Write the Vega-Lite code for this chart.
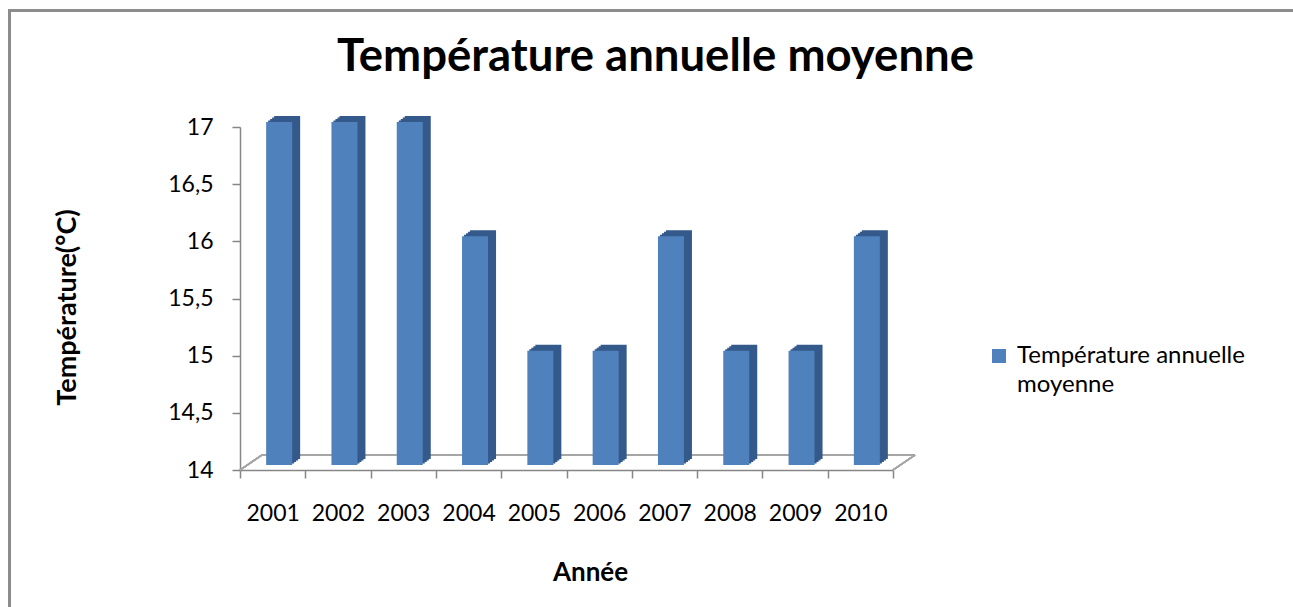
{
  "$schema": "https://vega.github.io/schema/vega-lite/v6.json",
  "width": 653,
  "height": 343,
  "autosize": "none",
  "padding": {"left": 240, "top": 127, "right": 400, "bottom": 137},
  "background": "white",
  "config": {
    "view": {"stroke": null},
    "font": "Lato",
    "axis": {"labelFont": "Lato", "titleFont": "Lato", "labelColor": "black", "titleColor": "black", "domainColor": "#868686", "tickColor": "#868686", "domainWidth": 1.5, "tickWidth": 1.5, "grid": false}
  },
  "title": {
    "text": "Température annuelle moyenne",
    "font": "Lato",
    "fontSize": 45.5,
    "fontWeight": "bold",
    "color": "black",
    "anchor": "middle",
    "frame": "group",
    "dx": 89,
    "baseline": "alphabetic",
    "offset": -107
  },
  "data": {
    "values": [
      {"annee": 2001, "temp": 17, "serie": "Température annuelle moyenne"},
      {"annee": 2002, "temp": 17, "serie": "Température annuelle moyenne"},
      {"annee": 2003, "temp": 17, "serie": "Température annuelle moyenne"},
      {"annee": 2004, "temp": 16, "serie": "Température annuelle moyenne"},
      {"annee": 2005, "temp": 15, "serie": "Température annuelle moyenne"},
      {"annee": 2006, "temp": 15, "serie": "Température annuelle moyenne"},
      {"annee": 2007, "temp": 16, "serie": "Température annuelle moyenne"},
      {"annee": 2008, "temp": 15, "serie": "Température annuelle moyenne"},
      {"annee": 2009, "temp": 15, "serie": "Température annuelle moyenne"},
      {"annee": 2010, "temp": 16, "serie": "Température annuelle moyenne"}
    ]
  },
  "layer": [
    {
      "mark": {"type": "rect", "fill": null, "stroke": "#8c8c8c", "strokeWidth": 2.5, "clip": false},
      "encoding": {
        "x": {"datum": 1996.97, "type": "quantitative", "scale": {"domain": [2000.5, 2010.5], "nice": false, "zero": false, "padding": 0}},
        "x2": {"datum": 2016.8},
        "y": {"datum": 18.02, "type": "quantitative", "scale": {"domain": [14, 17], "nice": false, "zero": false, "padding": 0}},
        "y2": {"datum": 12.6}
      }
    },
    {
      "mark": {"type": "rule", "stroke": "#a6a6a6", "strokeWidth": 1.5, "xOffset": 22, "yOffset": -15, "x2Offset": 22, "y2Offset": -15},
      "encoding": {
        "x": {"datum": 2000.5, "type": "quantitative"},
        "x2": {"datum": 2010.5},
        "y": {"datum": 14, "type": "quantitative"}
      }
    },
    {
      "mark": {"type": "rule", "stroke": "#a6a6a6", "strokeWidth": 1.5, "x2Offset": 22, "y2Offset": -15},
      "encoding": {
        "x": {"datum": 2000.5, "type": "quantitative"},
        "x2": {"datum": 2000.5},
        "y": {"datum": 14, "type": "quantitative"},
        "y2": {"datum": 14}
      }
    },
    {
      "mark": {"type": "rule", "stroke": "#a6a6a6", "strokeWidth": 1.5, "x2Offset": 22, "y2Offset": -15},
      "encoding": {
        "x": {"datum": 2010.5, "type": "quantitative"},
        "x2": {"datum": 2010.5},
        "y": {"datum": 14, "type": "quantitative"},
        "y2": {"datum": 14}
      }
    },
    {
      "mark": {"type": "bar", "width": 26, "fill": "#34598b", "xOffset": 8.5, "yOffset": -6.5, "y2Offset": -6.5},
      "encoding": {"x": {"field": "annee", "type": "quantitative"}, "y": {"field": "temp", "type": "quantitative"}, "y2": {"datum": 14}}
    },
    {
      "mark": {"type": "bar", "width": 26, "fill": "#34598b", "xOffset": 10.5, "yOffset": -8, "y2Offset": -8},
      "encoding": {"x": {"field": "annee", "type": "quantitative"}, "y": {"field": "temp", "type": "quantitative"}, "y2": {"datum": 14}}
    },
    {
      "mark": {"type": "bar", "width": 26, "fill": "#34598b", "xOffset": 12.5, "yOffset": -9.5, "y2Offset": -9.5},
      "encoding": {"x": {"field": "annee", "type": "quantitative"}, "y": {"field": "temp", "type": "quantitative"}, "y2": {"datum": 14}}
    },
    {
      "mark": {"type": "bar", "width": 26, "fill": "#34598b", "xOffset": 14.5, "yOffset": -11, "y2Offset": -11},
      "encoding": {"x": {"field": "annee", "type": "quantitative"}, "y": {"field": "temp", "type": "quantitative"}, "y2": {"datum": 14}}
    },
    {
      "mark": {"type": "bar", "width": 26, "xOffset": 6.5, "yOffset": -5, "y2Offset": -5},
      "encoding": {
        "x": {
          "field": "annee",
          "type": "quantitative",
          "scale": {"domain": [2000.5, 2010.5], "nice": false, "zero": false, "padding": 0},
          "axis": {
            "values": [2000.5, 2001.5, 2002.5, 2003.5, 2004.5, 2005.5, 2006.5, 2007.5, 2008.5, 2009.5, 2010.5],
            "labelExpr": "datum.value < 2010 ? toString(datum.value + 0.5) : ''",
            "labelOffset": 32.65,
            "labelFontSize": 23,
            "labelPadding": 24,
            "labelFlush": false,
            "labelOverlap": false,
            "tickSize": 8,
            "title": "Année",
            "titleFontSize": 26,
            "titleFontWeight": "bold",
            "titleX": 350,
            "titleY": 110,
            "titleAnchor": null,
            "titleAlign": "center",
            "titleBaseline": "alphabetic"
          }
        },
        "y": {
          "field": "temp",
          "type": "quantitative",
          "scale": {"domain": [14, 17], "nice": false, "zero": false, "padding": 0},
          "axis": {
            "values": [14, 14.5, 15, 15.5, 16, 16.5, 17],
            "labelExpr": "replace(format(datum.value, '.1~f'), '.', ',')",
            "labelFontSize": 23,
            "labelPadding": 19,
            "tickSize": 8,
            "title": "Température(°C)",
            "titleFontSize": 27,
            "titleFontWeight": "bold",
            "titleX": -173,
            "titleY": 180,
            "titleAngle": -90,
            "titleAlign": "center",
            "titleBaseline": "middle"
          }
        },
        "y2": {"datum": 14},
        "color": {
          "field": "serie",
          "type": "nominal",
          "scale": {"range": ["#4f81bd"]},
          "legend": {
            "title": null,
            "orient": "none",
            "legendX": 747,
            "legendY": 217,
            "symbolType": "square",
            "symbolSize": 196,
            "symbolStrokeWidth": 0,
            "labelFont": "Lato",
            "labelFontSize": 24,
            "labelColor": "black",
            "labelOffset": 6,
            "labelLimit": 400,
            "labelExpr": "['Température annuelle', 'moyenne']",
            "encode": {"labels": {"update": {"lineHeight": {"value": 29}}}}
          }
        }
      }
    }
  ]
}
